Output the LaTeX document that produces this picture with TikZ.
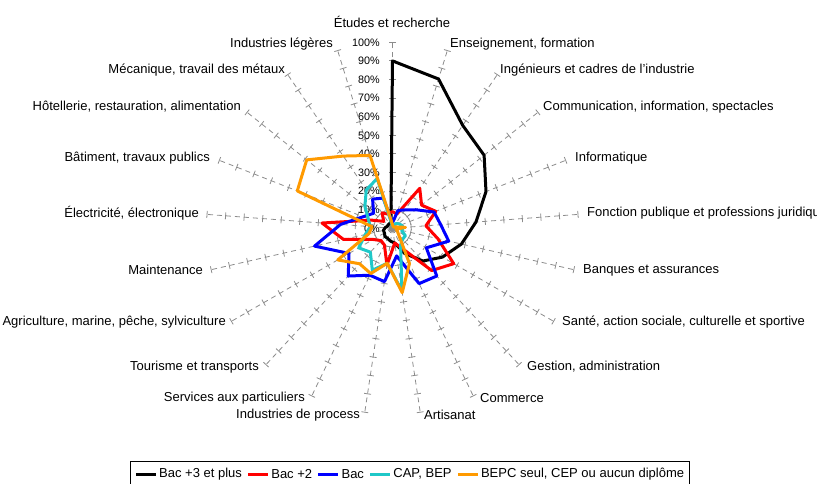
\documentclass[tikz,border=0pt]{standalone}
\usepackage{fontspec}
\setmainfont{Liberation Sans}
\definecolor{cCyan}{HTML}{1FC8C8}
\definecolor{cOrange}{HTML}{FF9A00}
\definecolor{cGrid}{HTML}{8C8C8C}
\newcommand\radarpoly[3]{%
  \draw[serie,#1] ({-90}:{#2*1.86}) \foreach \v [count=\k] in {#3}{ -- ({\k*360/21-90}:{\v*1.86}) } -- cycle;}
\begin{document}
\begin{tikzpicture}[x=1pt,y=-1pt,
  axisline/.style={draw=cGrid, line width=0.8pt, dash pattern=on 5pt off 4pt},
  tickmark/.style={draw=cGrid, line width=0.8pt},
  serie/.style={line width=3pt, line join=round},
  lab/.style={font=\fontsize{13}{15}\selectfont, inner sep=0pt},
  pct/.style={font=\fontsize{10.8}{12}\selectfont, inner sep=0pt, anchor=east},
  legline/.style={line width=3pt}]
\useasboundingbox (0,0) rectangle (817,484);
\clip (0,0) rectangle (817,484);
\begin{scope}[shift={(392.5,228.3)}]
  \foreach \k in {0,...,20}{
    \pgfmathsetmacro\ang{\k*360/21-90}
    \draw[axisline] (0,0) -- ({\ang}:186);
    \foreach \i in {0,...,10}{
      \draw[tickmark] ({\ang}:{\i*18.6}) ++({\ang+90}:3.5) -- ++({\ang-90}:7);
    }
  }
  \foreach \i in {0,...,10}{
    \pgfmathtruncatemacro\p{\i*10}
    \node[pct] (t\i) at (-12.5,{-\i*18.6}) {\p\%};
  }
  \radarpoly{black}{90}{84,67,63,54,45,38,31,24,15,8,7,6,6,5,5,4,3,3,3,3}
  \radarpoly{red}{9}{8,26,20,25,18,25,38,31,12,8,20,10,9,12,27,38,12,6,10,8}
  \radarpoly{blue}{3}{10,12,16,24,26,31,21,35,33,15,29,28,35,27,43,28,17,13,19,17}
  \radarpoly{cCyan}{1}{2,3,4,5,6,5,8,8,10,34,19,25,17.5,21,15,12,14,19,25,28}
  \radarpoly{cOrange}{2}{1,1,1,2,7,2,3,5,21,35,19,27,26,34,13,11,55,59,47,41}
\end{scope}
\node[lab,anchor=center] (l0) at (392,22) {Études et recherche};
\node[lab,anchor=west] (l1) at (450,44) {Enseignement, formation};
\node[lab,anchor=west] (l2) at (500,70) {Ingénieurs et cadres de l'industrie};
\node[lab,anchor=west] (l3) at (543,107) {Communication, information, spectacles};
\node[lab,anchor=west] (l4) at (575,158) {Informatique};
\node[lab,anchor=west] (l5) at (587,213) {Fonction publique et professions juridiques};
\node[lab,anchor=west] (l6) at (583,270) {Banques et assurances};
\node[lab,anchor=west] (l7) at (562,322) {Santé, action sociale, culturelle et sportive};
\node[lab,anchor=west] (l8) at (527,367) {Gestion, administration};
\node[lab,anchor=west] (l9) at (480,398) {Commerce};
\node[lab,anchor=west] (l10) at (424,415) {Artisanat};
\node[lab,anchor=east] (l11) at (360,415) {Industries de process};
\node[lab,anchor=east] (l12) at (305,398) {Services aux particuliers};
\node[lab,anchor=east] (l13) at (259,367) {Tourisme et transports};
\node[lab,anchor=east] (l14) at (226,322) {Agriculture, marine, pêche, sylviculture};
\node[lab,anchor=east] (l15) at (203,270) {Maintenance};
\node[lab,anchor=east] (l16) at (199,213) {Électricité, électronique};
\node[lab,anchor=east] (l17) at (210,158) {Bâtiment, travaux publics};
\node[lab,anchor=east] (l18) at (241,107) {Hôtellerie, restauration, alimentation};
\node[lab,anchor=east] (l19) at (285,70) {Mécanique, travail des métaux};
\node[lab,anchor=east] (l20) at (333,44) {Industries légères};
% legend
\draw[line width=0.8pt] (130,461) rectangle (689,492);
\coordinate (s1) at (136,474);
\draw[legline,black] (s1) -- ++(20,0) coordinate (e1);
\node[lab,anchor=west] (g1) at ([xshift=3pt]e1) {Bac +3 et plus};
\draw[legline,red] ([xshift=6pt]g1.east) coordinate (s2) -- ++(20,0) coordinate (e2);
\node[lab,anchor=west] (g2) at ([xshift=3pt]e2) {Bac +2};
\draw[legline,blue] ([xshift=6pt]g2.east) coordinate (s3) -- ++(20,0) coordinate (e3);
\node[lab,anchor=west] (g3) at ([xshift=3pt]e3) {Bac};
\draw[legline,cCyan] ([xshift=6pt]g3.east) coordinate (s4) -- ++(20,0) coordinate (e4);
\node[lab,anchor=west] (g4) at ([xshift=3pt]e4) {CAP, BEP};
\draw[legline,cOrange] ([xshift=6pt]g4.east) coordinate (s5) -- ++(20,0) coordinate (e5);
\node[lab,anchor=west] (g5) at ([xshift=3pt]e5) {BEPC seul, CEP ou aucun diplôme};
\end{tikzpicture}
\end{document}
